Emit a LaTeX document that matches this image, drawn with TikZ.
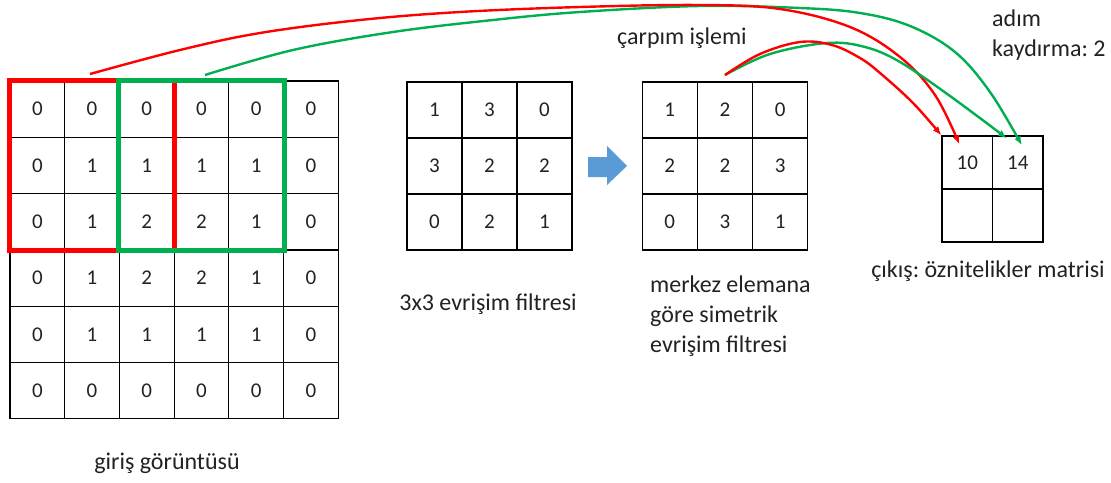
\documentclass[tikz,border=0pt]{standalone}
\usepackage{fontspec}
\setmainfont{Carlito}
\usetikzlibrary{arrows.meta,calc}
\definecolor{myred}{HTML}{FF0000}
\definecolor{mygreen}{HTML}{00B050}
\definecolor{myblue}{HTML}{5B9BD5}
\definecolor{txt}{HTML}{222222}
\frenchspacing
\begin{document}
\begin{tikzpicture}[x=1pt,y=-1pt,
  gcell/.style={draw=black, line width=1.2pt, inner sep=0pt, text=txt,
    font=\fontsize{21}{24}\selectfont},
  incell/.style={gcell, minimum width=54.7pt, minimum height=56.3pt},
  fcell/.style={gcell, minimum width=55pt, minimum height=56pt},
  ocell/.style={gcell, minimum width=50.5pt, minimum height=53pt},
  lbl/.style={inner sep=0pt, text=txt, font=\fontsize{24}{30}\selectfont},
  redbox/.style={draw=myred, line width=5pt},
  greenbox/.style={draw=mygreen, line width=5pt},
  redarr/.style={draw=myred, line width=2.4pt, -{Latex[length=9pt,width=7pt]}},
  greenarr/.style={draw=mygreen, line width=2.4pt, -{Latex[length=9pt,width=7pt]}}]
\useasboundingbox (0,0) rectangle (1111,482);

% input image
\foreach \row [count=\r] in {{0,0,0,0,0,0},{0,1,1,1,1,0},{0,1,2,2,1,0},{0,1,2,2,1,0},{0,1,1,1,1,0},{0,0,0,0,0,0}}{
  \foreach \v [count=\c] in \row {
    \node[incell] (in-\r-\c) at ({10+54.7*(\c-0.5)},{81+56.3*(\r-0.5)}) {\v};
  }
}
% filter
\foreach \row [count=\r] in {{1,3,0},{3,2,2},{0,2,1}}{
  \foreach \v [count=\c] in \row {
    \node[fcell] (f-\r-\c) at ({407+55*(\c-0.5)},{82+56*(\r-0.5)}) {\v};
  }
}
% flipped filter
\foreach \row [count=\r] in {{1,2,0},{2,2,3},{0,3,1}}{
  \foreach \v [count=\c] in \row {
    \node[fcell] (g-\r-\c) at ({642+55.3*(\c-0.5)},{82+56*(\r-0.5)}) {\v};
  }
}
% output
\node[ocell] (o-1-1) at ({942+50.5*0.5},{136+53*0.5}) {10};
\node[ocell] (o-1-2) at ({942+50.5*1.5},{136+53*0.5}) {14};
\node[ocell] (o-2-1) at ({942+50.5*0.5},{136+53*1.5}) {};
\node[ocell] (o-2-2) at ({942+50.5*1.5},{136+53*1.5}) {};

% windows
\draw[redbox] (in-1-1.north west) rectangle (in-3-3.south east);
\draw[greenbox] (in-1-3.north west) rectangle (in-3-5.south east);
\draw[draw=myred, line width=5pt, shorten <=2.5pt, shorten >=2.5pt] (in-1-3.north east) -- (in-3-3.south east);

% blue arrow
\fill[myblue] (588,157) -- (607,157) -- (607,146) -- (627,166) -- (607,185) -- (607,177) -- (588,177) -- cycle;

% labels
\node[lbl, anchor=base] (l-in) at (167,469) {giriş görüntüsü};
\node[lbl, anchor=base] (l-f) at (488,310) {3x3 evrişim filtresi};
\node[lbl, anchor=base west, align=left] (l-g) at (650,352) {merkez elemana\\göre simetrik\\evrişim filtresi};
\node[lbl, anchor=base] (l-o) at (988,277) {çıkış: öznitelikler matrisi};
\node[lbl, anchor=base west, align=left] (l-s) at (992,56) {adım\\kaydırma: 2};
\node[lbl, anchor=base west] (l-m) at (617,44) {çarpım işlemi};

% connectors
\coordinate (rs) at (90,74);
\coordinate (gs) at (205,75);
\coordinate (ms) at (725,75);
\coordinate (re1) at (o-1-1.north west);
\coordinate (re2) at ($(o-1-1.north west)+(18,9)$);
\coordinate (ge1) at ($(o-1-2.north west)+(15,3)$);
\coordinate (ge2) at ($(o-1-2.north west)+(30,10)$);

\draw[greenarr] plot[smooth, tension=0.6] coordinates {(gs) (293,50) (393,32) (493,20) (580,12) (700,6) (800,8) (860,13) (910,26) (955,52) (990,92) (ge2)};
\draw[redarr] plot[smooth, tension=0.6] coordinates {(rs) (180,50) (260,33) (360,20) (460,12) (580,7) (700,5) (780,9) (850,27) (900,57) (935,95) (re2)};
\draw[greenarr] plot[smooth, tension=0.6] coordinates {(ms) (770,54) (827,43) (865,47) (900,62) (950,96) (ge1)};
\draw[redarr] plot[smooth, tension=0.6] coordinates {(ms) (760,54) (800,42) (832,45) (860,58) (880,73) (913,103) (re1)};
\end{tikzpicture}
\end{document}
